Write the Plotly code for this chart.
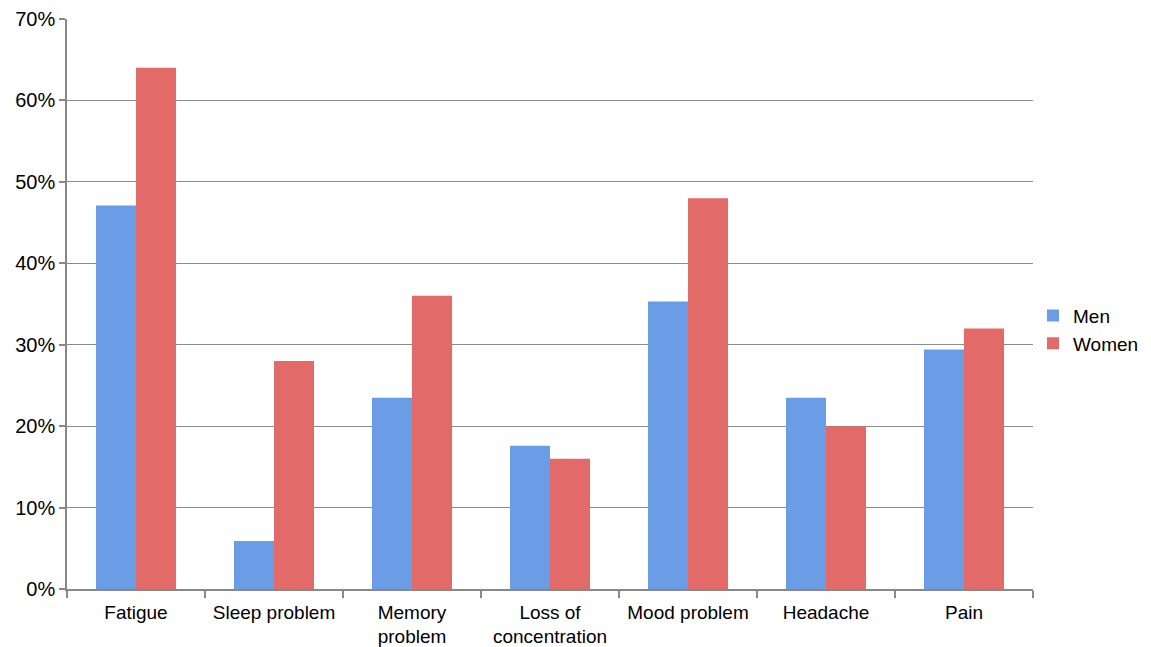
import plotly.graph_objects as go

categories = ["Fatigue", "Sleep problem", "Memory<br>problem", "Loss of<br>concentration",
              "Mood problem", "Headache", "Pain"]
men = [0.471, 0.059, 0.235, 0.176, 0.353, 0.235, 0.294]
women = [0.64, 0.28, 0.36, 0.16, 0.48, 0.20, 0.32]
y_ticks = [0, 0.1, 0.2, 0.3, 0.4, 0.5, 0.6, 0.7]

fig = go.Figure()
fig.add_trace(go.Bar(x=categories, y=men, name="Men",
                     marker=dict(color="#6b9de6", line=dict(width=0))))
fig.add_trace(go.Bar(x=categories, y=women, name="Women",
                     marker=dict(color="#e26a68", line=dict(width=0))))

fig.update_layout(
    width=1143, height=639,
    margin=dict(l=59, r=118, t=11, b=58, autoexpand=False),
    paper_bgcolor="white", plot_bgcolor="white",
    barmode="group", bargap=0.42, bargroupgap=0,
    font=dict(family="Liberation Sans, Arial, sans-serif", size=20, color="black"),
    showlegend=True,
    legend=dict(x=1.0, xref="paper", y=0.455, xanchor="left", yanchor="middle",
                font=dict(size=19), itemwidth=30, tracegroupgap=6),
    xaxis=dict(showline=True, linecolor="#888888", linewidth=1.5,
               ticks="outside", tickson="boundaries", ticklen=7,
               tickcolor="#888888", tickwidth=1.5, showgrid=False,
               ticklabelstandoff=5,
               tickangle=0, tickfont=dict(size=19), automargin=False),
    yaxis=dict(range=[0, 0.7], tickvals=y_ticks, tickformat=".0%",
               showline=True, linecolor="#888888", linewidth=1.5,
               ticks="outside", ticklen=6, tickcolor="#888888", tickwidth=1.5,
               showgrid=True, gridcolor="#8c8c8c", gridwidth=1.3,
               zeroline=False, tickfont=dict(size=20), automargin=False),
)

fig.write_html("out.html")
